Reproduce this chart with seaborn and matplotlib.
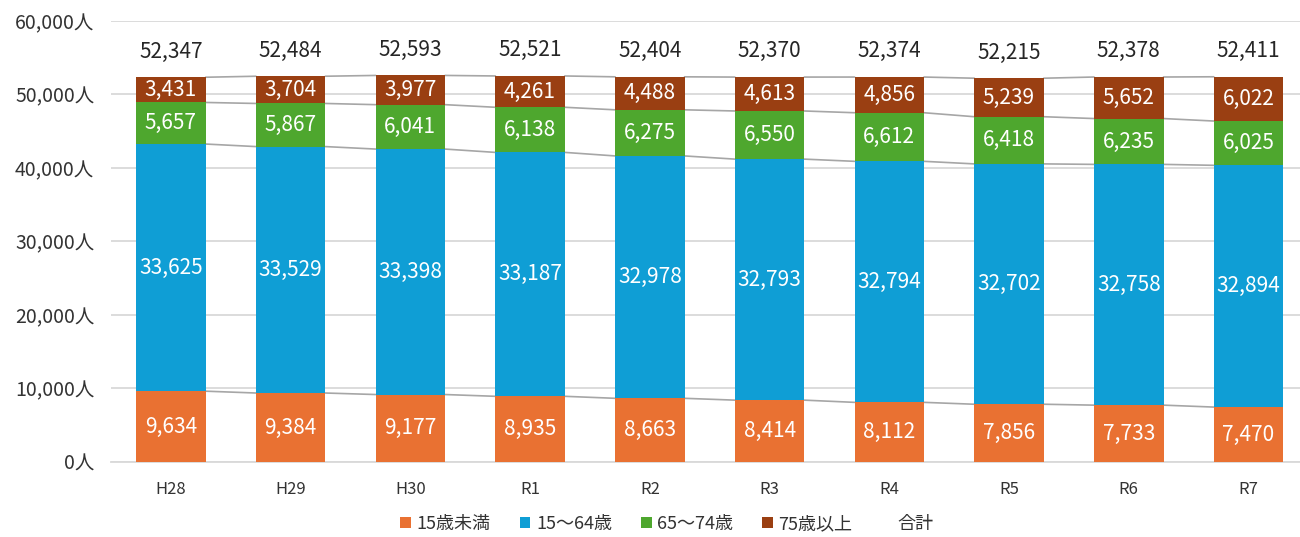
import numpy as np
import pandas as pd
import matplotlib
matplotlib.use("Agg")
import matplotlib.pyplot as plt
import seaborn as sns
from matplotlib.patches import Patch
from matplotlib.lines import Line2D

# datos
anios = ['H28', 'H29', 'H30', 'R1', 'R2', 'R3', 'R4', 'R5', 'R6', 'R7']
menor15 = [9634, 9384, 9177, 8935, 8663, 8414, 8112, 7856, 7733, 7470]
de15a64 = [33625, 33529, 33398, 33187, 32978, 32793, 32794, 32702, 32758, 32894]
de65a74 = [5657, 5867, 6041, 6138, 6275, 6550, 6612, 6418, 6235, 6025]
mayor75 = [3431, 3704, 3977, 4261, 4488, 4613, 4856, 5239, 5652, 6022]
totales = [52347, 52484, 52593, 52521, 52404, 52370, 52374, 52215, 52378, 52411]

series = ['15歳未満', '15～64歳', '65～74歳', '75歳以上']
colores = ['#E97132', '#0F9ED5', '#4EA72E', '#9A3F12']

sns.set_theme(style="white")
plt.rcParams['font.family'] = ['Noto Sans CJK JP', 'DejaVu Sans']

df = pd.DataFrame({'anio': anios, 's0': menor15, 's1': de15a64,
                   's2': de65a74, 's3': mayor75})
capas = df[['s0', 's1', 's2', 's3']].cumsum(axis=1)

fig = plt.figure(figsize=(13, 5.37), dpi=100)
ax = fig.add_axes([0.0854, 0.1397, 0.9146, 0.8212])

ancho = 0.58
# barras acumuladas, de la mas alta a la mas baja
for k in range(3, -1, -1):
    sns.barplot(x=df['anio'], y=capas[f's{k}'], color=colores[k], saturation=1,
                width=ancho, errorbar=None, ax=ax, zorder=3, order=anios,
                linewidth=0, edgecolor='none')

# lineas de serie entre barras
for k in range(4):
    alto = capas[f's{k}'].values
    for i in range(len(anios) - 1):
        ax.plot([i + ancho / 2, i + 1 - ancho / 2], [alto[i], alto[i + 1]],
                color='#A6A6A6', lw=1.2, zorder=2)

# etiquetas
for k in range(4):
    vals = df[f's{k}'].values
    base = capas[f's{k}'].values - vals
    for i, v in enumerate(vals):
        ax.text(i, base[i] + v / 2, f'{v:,}', ha='center', va='center',
                color='white', fontsize=15, zorder=4)
for i, t in enumerate(totales):
    ax.text(i, t + 3500, f'{t:,}', ha='center', va='center',
            color='#262626', fontsize=15, zorder=4)

ax.set_ylim(0, 60000)
ax.set_xlim(-0.5, 9.43)
ax.set_yticks(range(0, 60001, 10000))
ax.set_yticklabels([f'{v:,}人' for v in range(0, 60001, 10000)])
ax.yaxis.grid(True, color='#D9D9D9', lw=1.3, zorder=0)
ax.set_axisbelow(True)
for s in ['top', 'right', 'left']:
    ax.spines[s].set_visible(False)
ax.spines['bottom'].set_color('#D9D9D9')
ax.spines['bottom'].set_linewidth(1.3)
ax.tick_params(axis='y', length=0, pad=12, labelsize=14, labelcolor='#333333')
ax.tick_params(axis='x', length=0, pad=14, labelsize=12, labelcolor='#333333')
ax.set_xlabel('')
ax.set_ylabel('')

manejadores = [Patch(facecolor=c, edgecolor='none') for c in colores]
manejadores.append(Line2D([], [], color='none'))
fig.legend(manejadores, series + ['合計'], loc='center', ncol=5,
           bbox_to_anchor=(0.513, 0.024), frameon=False, fontsize=13,
           handlelength=0.6, handleheight=0.6, handletextpad=0.3,
           columnspacing=1.6, labelcolor='#333333')

fig.savefig('out.png', dpi=100)
